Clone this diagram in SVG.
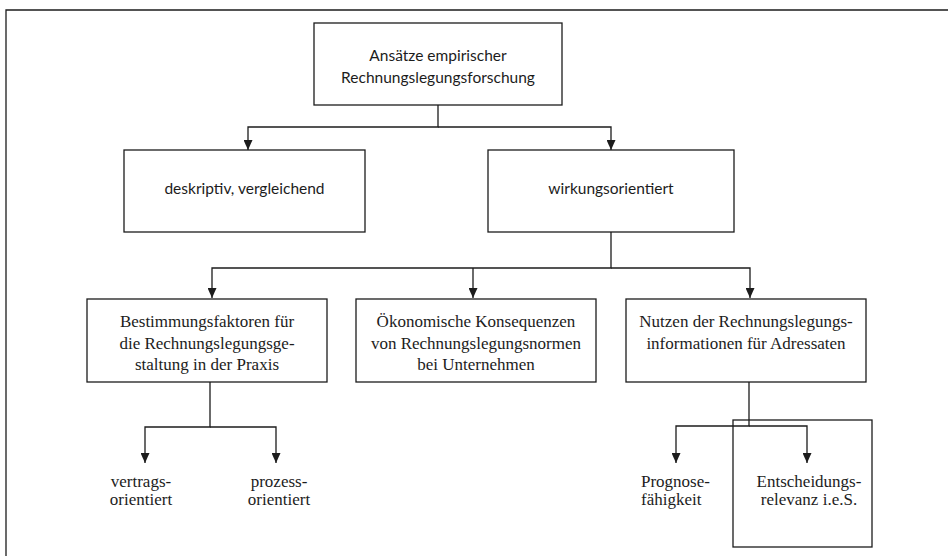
<svg xmlns="http://www.w3.org/2000/svg" width="948" height="556" viewBox="0 0 948 556">
<style>
.box{fill:none;stroke:#1c1c1c;stroke-width:1.3}
.ln{fill:none;stroke:#1c1c1c;stroke-width:1.3}
.sans{font-family:Lato,"Liberation Sans",sans-serif;font-size:15.5px;fill:#1c1c1c;text-anchor:middle}
.ser{font-family:"Liberation Serif","Times New Roman",serif;font-size:17px;fill:#1c1c1c;text-anchor:middle}
</style>
<defs>
<marker id="ah" markerUnits="userSpaceOnUse" markerWidth="9" markerHeight="10" refX="4.5" refY="10" orient="0" viewBox="0 0 9 10">
<path d="M0,0 L9,0 L4.5,10 Z" fill="#1c1c1c"/>
</marker>
</defs>
<rect width="948" height="556" fill="#fff"/>
<path class="ln" d="M6,556 V10 H948"/>
<g id="connectors">
<path class="ln" d="M438,105 V127 H248 V150" marker-end="url(#ah)"/>
<path class="ln" d="M438,127 H611 V150" marker-end="url(#ah)"/>
<path class="ln" d="M611,232 V268 H212 V298" marker-end="url(#ah)"/>
<path class="ln" d="M473,268 V298" marker-end="url(#ah)"/>
<path class="ln" d="M611,268 H750 V298" marker-end="url(#ah)"/>
<path class="ln" d="M210,382 V427 H145 V463" marker-end="url(#ah)"/>
<path class="ln" d="M210,427 H276 V463" marker-end="url(#ah)"/>
<path class="ln" d="M749,382 V426 H676 V463" marker-end="url(#ah)"/>
<path class="ln" d="M749,426 H807 V463" marker-end="url(#ah)"/>
</g>
<g id="root">
<rect class="box" x="314" y="23" width="248" height="82"/>
<text class="sans" x="438" y="61">Ansätze empirischer</text>
<text class="sans" x="438" y="83">Rechnungslegungsforschung</text>
</g>
<g id="deskriptiv">
<rect class="box" x="124" y="150" width="241" height="82"/>
<text class="sans" x="244.5" y="194">deskriptiv, vergleichend</text>
</g>
<g id="wirkungsorientiert">
<rect class="box" x="488" y="150" width="246" height="82"/>
<text class="sans" x="611" y="194">wirkungsorientiert</text>
</g>
<g id="bestimmungsfaktoren">
<rect class="box" x="87" y="299" width="240" height="83"/>
<text class="ser" x="207" y="327">Bestimmungsfaktoren für</text>
<text class="ser" x="207" y="348.5">die Rechnungslegungsge-</text>
<text class="ser" x="207" y="370">staltung in der Praxis</text>
</g>
<g id="oekonomische">
<rect class="box" x="356" y="299" width="240" height="83"/>
<text class="ser" x="476" y="327">Ökonomische Konsequenzen</text>
<text class="ser" x="476" y="348.5">von Rechnungslegungsnormen</text>
<text class="ser" x="476" y="370">bei Unternehmen</text>
</g>
<g id="nutzen">
<rect class="box" x="626" y="299" width="240" height="83"/>
<text class="ser" x="746" y="327">Nutzen der Rechnungslegungs-</text>
<text class="ser" x="746" y="348.5">informationen für Adressaten</text>
</g>
<g id="vertrags">
<text class="ser" x="141" y="487">vertrags-</text>
<text class="ser" x="141" y="505">orientiert</text>
</g>
<g id="prozess">
<text class="ser" x="279" y="487">prozess-</text>
<text class="ser" x="279" y="505">orientiert</text>
</g>
<g id="prognose">
<text class="ser" x="641" y="487" style="text-anchor:start">Prognose-</text>
<text class="ser" x="641" y="505" style="text-anchor:start">fähigkeit</text>
</g>
<g id="entscheidungsrelevanz">
<rect class="box" x="733" y="420" width="139" height="127"/>
<text class="ser" x="809" y="487">Entscheidungs-</text>
<text class="ser" x="809" y="505">relevanz i.e.S.</text>
</g>
</svg>
